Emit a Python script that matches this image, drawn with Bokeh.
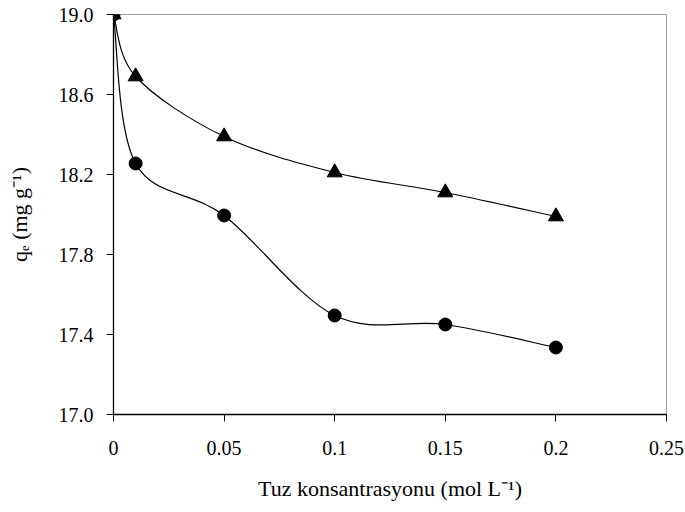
from bokeh.plotting import figure
from bokeh.models import FixedTicker, NumeralTickFormatter, Range1d
from bokeh.embed import file_html
from bokeh.resources import INLINE

# Data
conc = [0.0, 0.01, 0.05, 0.10, 0.15, 0.20]
qe_triangle = [19.0, 18.69, 18.39, 18.21, 18.11, 17.99]
qe_circle = [19.0, 18.255, 17.995, 17.495, 17.45, 17.335]
x_ticks = [0, 0.05, 0.1, 0.15, 0.2, 0.25]
y_ticks = [17.0, 17.4, 17.8, 18.2, 18.6, 19.0]

XMIN, XMAX, YMIN, YMAX = 0.0, 0.25, 17.0, 19.0
FRAME_W, FRAME_H = 553, 400

p = figure(width=685, height=512, output_backend="svg", toolbar_location=None,
           x_range=Range1d(XMIN, XMAX), y_range=Range1d(YMIN, YMAX),
           min_border_left=113, min_border_right=19, min_border_top=14, min_border_bottom=98)
p.background_fill_color = "white"
p.border_fill_color = "white"
p.outline_line_color = "#a0a0a0"
p.outline_line_width = 1
p.grid.visible = False

def smooth_bezier(xs, ys):
    # Catmull-Rom style smoothing (like spreadsheet smoothed lines), in screen-scaled space
    sx = FRAME_W / (XMAX - XMIN)
    sy = FRAME_H / (YMAX - YMIN)
    X = [x * sx for x in xs]
    Y = [y * sy for y in ys]
    n = len(X)
    out = {k: [] for k in ("x0", "y0", "x1", "y1", "cx0", "cy0", "cx1", "cy1")}
    for i in range(n - 1):
        p0 = (X[i - 1], Y[i - 1]) if i > 0 else (X[i], Y[i])
        p1 = (X[i], Y[i])
        p2 = (X[i + 1], Y[i + 1])
        p3 = (X[i + 2], Y[i + 2]) if i + 2 < n else (X[i + 1], Y[i + 1])
        c1 = (p1[0] + (p2[0] - p0[0]) / 6, p1[1] + (p2[1] - p0[1]) / 6)
        c2 = (p2[0] - (p3[0] - p1[0]) / 6, p2[1] - (p3[1] - p1[1]) / 6)
        out["x0"].append(p1[0] / sx); out["y0"].append(p1[1] / sy)
        out["x1"].append(p2[0] / sx); out["y1"].append(p2[1] / sy)
        out["cx0"].append(c1[0] / sx); out["cy0"].append(c1[1] / sy)
        out["cx1"].append(c2[0] / sx); out["cy1"].append(c2[1] / sy)
    return out

for ys in (qe_triangle, qe_circle):
    b = smooth_bezier(conc, ys)
    p.bezier(x0=b["x0"], y0=b["y0"], x1=b["x1"], y1=b["y1"],
             cx0=b["cx0"], cy0=b["cy0"], cx1=b["cx1"], cy1=b["cy1"],
             line_color="black", line_width=1.2)

p.scatter(conc, qe_triangle, marker="triangle", size=15, fill_color="black", line_color="black")
p.scatter(conc, qe_circle, marker="circle", size=13, fill_color="black", line_color="black")

font = "Liberation Serif"
for ax in (p.xaxis[0], p.yaxis[0]):
    ax.axis_line_color = "black"
    ax.axis_line_width = 1.3
    ax.major_tick_line_color = "black"
    ax.major_tick_in = 0
    ax.major_tick_out = 7
    ax.minor_tick_line_color = None
    ax.major_label_text_font = font
    ax.major_label_text_font_size = "20px"
    ax.major_label_text_color = "black"
    ax.axis_label_text_font = font
    ax.axis_label_text_font_style = "normal"
    ax.axis_label_text_font_size = "22px"
    ax.axis_label_text_color = "black"

p.xaxis.ticker = FixedTicker(ticks=x_ticks)
p.yaxis.ticker = FixedTicker(ticks=y_ticks)
p.xaxis.formatter = NumeralTickFormatter(format="0.[00]")
p.yaxis.formatter = NumeralTickFormatter(format="0.0")
p.xaxis.major_label_standoff = 19
p.yaxis.major_label_standoff = 13
p.xaxis.axis_label = "Tuz konsantrasyonu (mol L\u207b\u00b9)"
p.yaxis.axis_label = "q\u2091 (mg g\u207b\u00b9)"
p.xaxis.axis_label_standoff = 18
p.yaxis.axis_label_standoff = 24

open("out.html", "w").write(file_html(p, INLINE))
